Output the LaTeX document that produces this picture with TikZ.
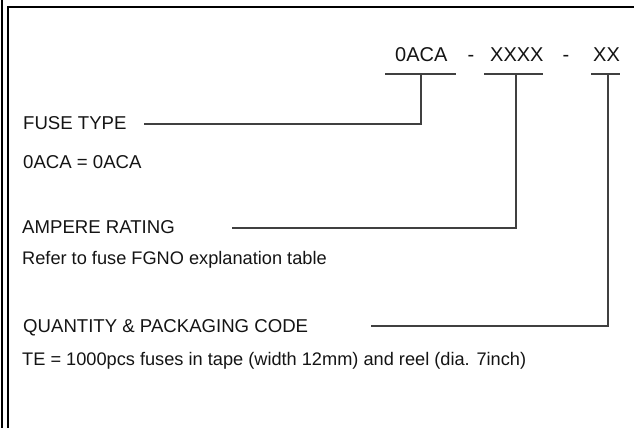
\documentclass[tikz,border=0pt]{standalone}
\usepackage{fontspec}
\setmainfont{Liberation Sans}
\begin{document}
\begin{tikzpicture}[x=1pt,y=-1pt,
  frameline/.style={line width=2pt,black},
  conn/.style={line width=1.6pt,draw=black!75},
  codetxt/.style={anchor=base west,inner sep=0pt,font=\fontsize{20}{24}\selectfont,text=black!92},
  lbl/.style={anchor=base west,inner sep=0pt,font=\fontsize{18.6}{22}\selectfont,text=black!92},
  desc/.style={anchor=base west,inner sep=0pt,font=\fontsize{18.2}{22}\selectfont,text=black!92}]
\useasboundingbox (0,0) rectangle (634,428);
% frame
\draw[frameline] (2,0) -- (2,428);
\draw[frameline] (7.5,428) -- (7.5,7.5) -- (634,7.5);
% code
\node[codetxt] (c1) at (395,62) {0ACA};
\node[codetxt,anchor=base] (d1) at (471,62) {-};
\node[codetxt] (c2) at (490,62) {XXXX};
\node[codetxt,anchor=base] (d2) at (566,62) {-};
\node[codetxt] (c3) at (593,62) {XX};
% bars
\coordinate (b1l) at (385,74); \coordinate (b1r) at (456,74); \coordinate (b1) at (421,74);
\coordinate (b2l) at (484,74); \coordinate (b2r) at (543,74); \coordinate (b2) at (516,74);
\coordinate (b3l) at (591,74); \coordinate (b3r) at (620,74); \coordinate (b3) at (608,74);
\draw[conn] (b1l) -- (b1r);
\draw[conn] (b2l) -- (b2r);
\draw[conn] (b3l) -- (b3r);
% labels
\node[lbl] (l1) at (23,129) {FUSE TYPE};
\node[lbl] (t1) at (23,168) {0ACA = 0ACA};
\node[lbl] (l2) at (22,233) {AMPERE RATING};
\node[desc] (t2) at (22,264) {Refer to fuse FGNO explanation table};
\node[lbl] (l3) at (23,332) {QUANTITY \& PACKAGING CODE};
\node[desc] (t3) at (22,365) {TE = 1000pcs fuses in tape (width 12mm) and reel (dia. 7inch)};
% connectors
\coordinate (s1) at (144,124);
\coordinate (s2) at (232,228);
\coordinate (s3) at (371,326);
\draw[conn] (s1) -| (b1);
\draw[conn] (s2) -| (b2);
\draw[conn] (s3) -| (b3);
\end{tikzpicture}
\end{document}
